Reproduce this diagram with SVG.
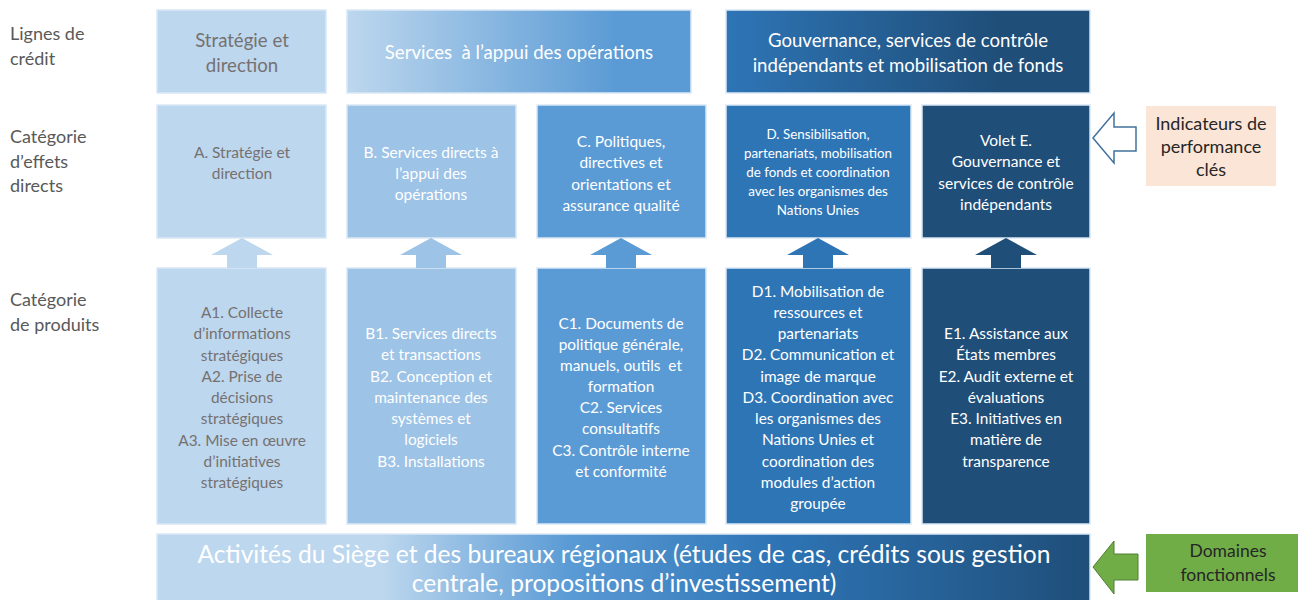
<svg xmlns="http://www.w3.org/2000/svg" width="1310" height="600" viewBox="0 0 1310 600">
  <defs>
    <linearGradient id="gTop2" x1="0" y1="0" x2="1" y2="0">
      <stop offset="0" stop-color="#bdd7ee"/>
      <stop offset="0.78" stop-color="#5b9bd5"/>
      <stop offset="1" stop-color="#5b9bd5"/>
    </linearGradient>
    <linearGradient id="gTop3" x1="0" y1="0" x2="1" y2="0">
      <stop offset="0" stop-color="#2e75b6"/>
      <stop offset="0.75" stop-color="#1f4e79"/>
      <stop offset="1" stop-color="#1f4e79"/>
    </linearGradient>
    <linearGradient id="gBar" x1="0" y1="0" x2="1" y2="0">
      <stop offset="0" stop-color="#bdd7ee"/>
      <stop offset="0.24" stop-color="#bdd7ee"/>
      <stop offset="0.44" stop-color="#5b9bd5"/>
      <stop offset="0.66" stop-color="#2e75b6"/>
      <stop offset="1" stop-color="#1f4e79"/>
    </linearGradient>
  </defs>
  <style>
    text { font-family: Lato, "Open Sans", "Liberation Sans", sans-serif; text-anchor: middle; }
    .side { font-size: 18px; fill: #595959; text-anchor: start; }
    .hdr { font-size: 18.6px; fill: #ffffff; }
    .mid { font-size: 15.5px; fill: #ffffff; }
    .small { font-size: 13.4px; fill: #ffffff; }
    .prod { font-size: 15.4px; fill: #ffffff; }
    .note { font-size: 18px; fill: #262626; }
    .box { stroke: #dae8f5; stroke-width: 1.5; }
    .cA { fill: #bdd7ee; }
    .cB { fill: #9dc3e6; }
    .cC { fill: #5b9bd5; }
    .cD { fill: #2e75b6; }
    .cE { fill: #1f4e79; }
    text.grey { fill: #767171; }
  </style>

  <!-- row labels -->
  <g id="row-labels">
    <text class="side" x="10" y="40">Lignes de</text>
    <text class="side" x="10" y="65">crédit</text>
    <text class="side" x="10" y="143">Catégorie</text>
    <text class="side" x="10" y="168">d’effets</text>
    <text class="side" x="10" y="192">directs</text>
    <text class="side" x="10" y="306">Catégorie</text>
    <text class="side" x="10" y="331">de produits</text>
  </g>

  <!-- credit lines -->
  <g id="line-strategie">
    <rect class="box cA" x="157" y="10" width="169" height="83"/>
    <text class="hdr grey" x="242" y="47">Stratégie et</text>
    <text class="hdr grey" x="242" y="72">direction</text>
  </g>
  <g id="line-services">
    <rect class="box" fill="url(#gTop2)" x="347" y="10" width="344" height="83"/>
    <text class="hdr" x="519" y="59" xml:space="preserve">Services  à l’appui des opérations</text>
  </g>
  <g id="line-gouvernance">
    <rect class="box" fill="url(#gTop3)" x="726" y="10" width="364" height="83"/>
    <text class="hdr" x="908" y="47">Gouvernance, services de contrôle</text>
    <text class="hdr" x="908" y="72">indépendants et mobilisation de fonds</text>
  </g>

  <!-- outcome categories -->
  <g id="outcome-A">
    <rect class="box cA" x="157" y="105" width="169" height="133"/>
    <text class="mid grey" x="242" y="158">A. Stratégie et</text>
    <text class="mid grey" x="242" y="179">direction</text>
  </g>
  <g id="outcome-B">
    <rect class="box cB" x="347" y="105" width="169" height="133"/>
    <text class="mid" x="431" y="158">B. Services directs à</text>
    <text class="mid" x="431" y="179">l’appui des</text>
    <text class="mid" x="431" y="200">opérations</text>
  </g>
  <g id="outcome-C">
    <rect class="box cC" x="537" y="105" width="169" height="133"/>
    <text class="mid" x="621" y="147">C. Politiques,</text>
    <text class="mid" x="621" y="168">directives et</text>
    <text class="mid" x="621" y="190">orientations et</text>
    <text class="mid" x="621" y="211">assurance qualité</text>
  </g>
  <g id="outcome-D">
    <rect class="box cD" x="726" y="105" width="185" height="133"/>
    <text class="small" x="818" y="139">D. Sensibilisation,</text>
    <text class="small" x="818" y="158">partenariats, mobilisation</text>
    <text class="small" x="818" y="177">de fonds et coordination</text>
    <text class="small" x="818" y="196">avec les organismes des</text>
    <text class="small" x="818" y="215">Nations Unies</text>
  </g>
  <g id="outcome-E">
    <rect class="box cE" x="922" y="105" width="168" height="133"/>
    <text class="mid" x="1006" y="146">Volet E.</text>
    <text class="mid" x="1006" y="167">Gouvernance et</text>
    <text class="mid" x="1006" y="189">services de contrôle</text>
    <text class="mid" x="1006" y="210">indépendants</text>
  </g>

  <!-- output categories -->
  <g id="output-A">
    <rect class="box cA" x="157" y="268" width="169" height="256"/>
    <text class="prod grey" x="242" y="318">A1. Collecte</text>
    <text class="prod grey" x="242" y="339">d’informations</text>
    <text class="prod grey" x="242" y="361">stratégiques</text>
    <text class="prod grey" x="242" y="382">A2. Prise de</text>
    <text class="prod grey" x="242" y="403">décisions</text>
    <text class="prod grey" x="242" y="424">stratégiques</text>
    <text class="prod grey" x="242" y="446">A3. Mise en œuvre</text>
    <text class="prod grey" x="242" y="467">d’initiatives</text>
    <text class="prod grey" x="242" y="488">stratégiques</text>
  </g>
  <g id="output-B">
    <rect class="box cB" x="347" y="268" width="169" height="256"/>
    <text class="prod" x="431" y="339">B1. Services directs</text>
    <text class="prod" x="431" y="360">et transactions</text>
    <text class="prod" x="431" y="382">B2. Conception et</text>
    <text class="prod" x="431" y="403">maintenance des</text>
    <text class="prod" x="431" y="424">systèmes et</text>
    <text class="prod" x="431" y="445">logiciels</text>
    <text class="prod" x="431" y="467">B3. Installations</text>
  </g>
  <g id="output-C">
    <rect class="box cC" x="537" y="268" width="169" height="256"/>
    <text class="prod" x="621" y="329">C1. Documents de</text>
    <text class="prod" x="621" y="350">politique générale,</text>
    <text class="prod" x="621" y="371" xml:space="preserve">manuels, outils  et</text>
    <text class="prod" x="621" y="392">formation</text>
    <text class="prod" x="621" y="413">C2. Services</text>
    <text class="prod" x="621" y="434">consultatifs</text>
    <text class="prod" x="621" y="456">C3. Contrôle interne</text>
    <text class="prod" x="621" y="477">et conformité</text>
  </g>
  <g id="output-D">
    <rect class="box cD" x="726" y="268" width="185" height="256"/>
    <text class="prod" x="818" y="297">D1. Mobilisation de</text>
    <text class="prod" x="818" y="318">ressources et</text>
    <text class="prod" x="818" y="339">partenariats</text>
    <text class="prod" x="818" y="360">D2. Communication et</text>
    <text class="prod" x="818" y="382">image de marque</text>
    <text class="prod" x="818" y="403">D3. Coordination avec</text>
    <text class="prod" x="818" y="424">les organismes des</text>
    <text class="prod" x="818" y="445">Nations Unies et</text>
    <text class="prod" x="818" y="467">coordination des</text>
    <text class="prod" x="818" y="488">modules d’action</text>
    <text class="prod" x="818" y="509">groupée</text>
  </g>
  <g id="output-E">
    <rect class="box cE" x="922" y="268" width="168" height="256"/>
    <text class="prod" x="1006" y="339">E1. Assistance aux</text>
    <text class="prod" x="1006" y="360">États membres</text>
    <text class="prod" x="1006" y="382">E2. Audit externe et</text>
    <text class="prod" x="1006" y="403">évaluations</text>
    <text class="prod" x="1006" y="424">E3. Initiatives en</text>
    <text class="prod" x="1006" y="445">matière de</text>
    <text class="prod" x="1006" y="467">transparence</text>
  </g>

  <!-- activities bar -->
  <g id="activities">
    <rect class="box" fill="url(#gBar)" x="157" y="534" width="933" height="68"/>
    <text x="624" y="563" style="font-size:24.6px;fill:#ffffff">Activités du Siège et des bureaux régionaux (études de cas, crédits sous gestion</text>
    <text x="624" y="592" style="font-size:24.6px;fill:#ffffff">centrale, propositions d’investissement)</text>
  </g>

  <!-- side notes -->
  <g id="kpi">
    <rect x="1146" y="106" width="130" height="80" fill="#fbe5d6"/>
    <text class="note" x="1211" y="130">Indicateurs de</text>
    <text class="note" x="1211" y="153">performance</text>
    <text class="note" x="1211" y="176">clés</text>
  </g>
  <g id="domaines">
    <rect x="1146" y="534" width="152" height="58" fill="#70ad47"/>
    <text x="1228" y="557" style="font-size:17.5px;fill:#262626">Domaines</text>
    <text x="1228" y="581" style="font-size:17.5px;fill:#262626">fonctionnels</text>
  </g>

  <!-- connectors -->
  <g id="connectors">
    <polygon class="cA" points="242,238 273,255 257,255 257,268 227,268 227,255 211,255"/>
    <polygon class="cB" points="431,238 462,255 446,255 446,268 416,268 416,255 400,255"/>
    <polygon class="cC" points="621,238 652,255 636,255 636,268 606,268 606,255 590,255"/>
    <polygon class="cD" points="818,238 849,255 833,255 833,268 803,268 803,255 787,255"/>
    <polygon class="cE" points="1006,238 1037,255 1021,255 1021,268 991,268 991,255 975,255"/>
    <polygon points="1093,138 1114,113 1114,127 1136,127 1136,151 1114,151 1114,163" fill="#ffffff" stroke="#41719c" stroke-width="1.5"/>
    <polygon points="1093,567 1114,541 1114,554 1138,554 1138,580 1114,580 1114,594" fill="#70ad47" stroke="#507e32" stroke-width="1"/>
  </g>
</svg>
